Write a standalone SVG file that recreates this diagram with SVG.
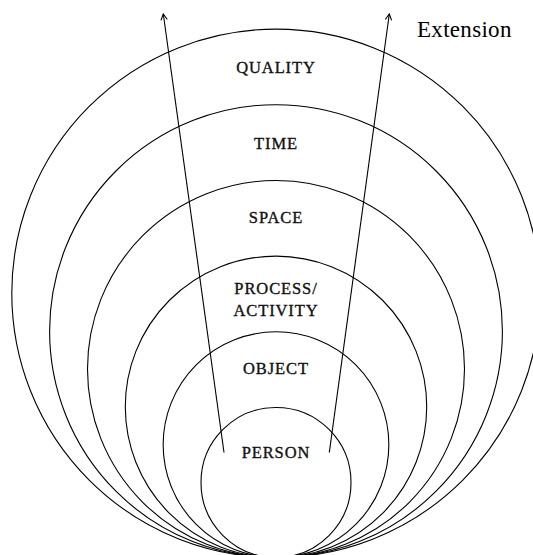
<svg xmlns="http://www.w3.org/2000/svg" width="533" height="555" viewBox="0 0 533 555">
  <style>
    .ring { fill: none; stroke: #000; stroke-width: 1.1; }
    .lbl { font-family: "Liberation Serif", "DejaVu Serif", serif; font-size: 16.5px; letter-spacing: 0.9px; fill: #111; stroke: #111; stroke-width: 0.35px; text-anchor: middle; }
    .ext { font-family: "Liberation Serif", "DejaVu Serif", serif; font-size: 23px; letter-spacing: 0.3px; fill: #000; }
    .arrow { stroke: #000; stroke-width: 1.1; fill: none; marker-end: url(#head); }
  </style>
  <defs>
    <marker id="head" viewBox="-7 -4 8 8" markerWidth="8" markerHeight="8" refX="0" refY="0" orient="auto" markerUnits="userSpaceOnUse">
      <path d="M-6,-3.2 L0,0 L-6,3.2" fill="none" stroke="#000" stroke-width="1.1"/>
    </marker>
  </defs>
  <rect width="533" height="555" fill="#fff"/>
  <g id="quality">
    <circle class="ring" cx="276" cy="293.3" r="264.2"/>
    <text class="lbl" x="276" y="73">QUALITY</text>
  </g>
  <g id="time">
    <circle class="ring" cx="276" cy="331.1" r="226.4"/>
    <text class="lbl" x="276" y="148.5">TIME</text>
  </g>
  <g id="space">
    <circle class="ring" cx="276" cy="369" r="188.5"/>
    <text class="lbl" x="276" y="223">SPACE</text>
  </g>
  <g id="process-activity">
    <circle class="ring" cx="276" cy="406.8" r="150.7"/>
    <text class="lbl" x="276" y="293.5">PROCESS/</text>
    <text class="lbl" x="276" y="315.5">ACTIVITY</text>
  </g>
  <g id="object">
    <circle class="ring" cx="276" cy="444.66" r="112.84"/>
    <text class="lbl" x="276" y="374">OBJECT</text>
  </g>
  <g id="person">
    <circle class="ring" cx="276" cy="482.5" r="75"/>
    <text class="lbl" x="276" y="458">PERSON</text>
  </g>
  <g id="connectors">
    <line class="arrow" x1="224" y1="452.5" x2="163.3" y2="14"/>
    <line class="arrow" x1="329.3" y1="452.5" x2="389.3" y2="14"/>
    <text class="ext" x="417" y="37">Extension</text>
  </g>
</svg>
